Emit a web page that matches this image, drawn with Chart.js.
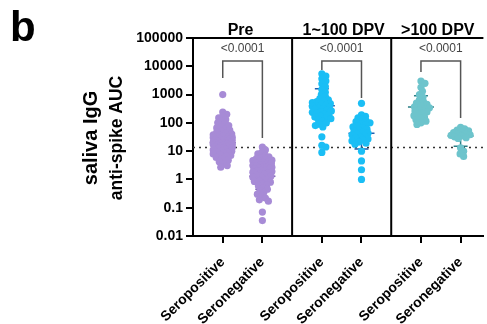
<!DOCTYPE html>
<html><head><meta charset="utf-8">
<script src="https://cdn.jsdelivr.net/npm/chart.js@4.4.0/dist/chart.umd.min.js"></script>
<style>html,body{margin:0;padding:0;background:#fff;}canvas{display:block}</style>
</head><body>
<canvas id="c" width="487" height="324"></canvas>
<script>
const panelTitles = ['Pre', '1~100 DPV', '>100 DPV'];
const groupLabels = ['Seropositive', 'Seronegative', 'Seropositive', 'Seronegative', 'Seropositive', 'Seronegative'];
const groupPositions = [0.3, 0.7, 1.3, 1.7, 2.3, 2.7];
const yTickValues = [100000, 10000, 1000, 100, 10, 1, 0.1, 0.01];
const yTickLabels = ['100000', '10000', '1000', '100', '10', '1', '0.1', '0.01'];
const pValues = ['<0.0001', '<0.0001', '<0.0001'];
const cutoff = 13.5;

const preSeropositive = [1000, 240, 200, 170, 150, 130, 115, 100, 90, 80, 72, 66, 60, 55, 50, 46, 43, 40, 38, 36, 34, 33, 32, 31, 30, 29, 28, 27, 26, 25, 24.5, 24, 23, 22.5, 22, 21, 20.5, 20, 19.5, 19, 18.5, 18, 17.5, 17, 16.5, 16, 15.5, 15, 14.5, 14, 13.5, 13, 12.5, 12, 11.5, 11, 10.5, 10, 9.5, 9, 8.5, 8, 7.5, 7, 6.5, 6, 5.4, 4.8, 4.2, 3.6, 3.1, 2.7];
const preSeronegative = [14, 11, 9, 8, 7, 6.3, 5.8, 5.4, 5.0, 4.8, 4.6, 4.4, 4.2, 4.0, 3.8, 3.6, 3.4, 3.2, 3.1, 3.0, 2.9, 2.8, 2.7, 2.6, 2.5, 2.4, 2.3, 2.2, 2.1, 2.0, 1.9, 1.8, 1.7, 1.6, 1.5, 1.4, 1.3, 1.2, 1.1, 1.0, 0.9, 0.85, 0.8, 0.7, 0.65, 0.6, 0.5, 0.45, 0.4, 0.35, 0.3, 0.26, 0.22, 0.19, 0.17, 0.07, 0.035];
const dpv1Seropositive = [5400, 4500, 3600, 3000, 2400, 1900, 1500, 1200, 1000, 850, 720, 650, 600, 560, 520, 480, 450, 420, 400, 380, 360, 340, 320, 300, 280, 265, 250, 235, 220, 205, 190, 175, 160, 150, 140, 130, 115, 100, 90, 80, 72, 32, 16, 14, 9];
const dpv1Seronegative = [490, 190, 170, 150, 135, 120, 110, 100, 92, 85, 78, 72, 66, 60, 55, 50, 46, 43, 40, 37, 34, 31, 29, 27, 25, 23, 21, 19, 17.5, 10, 4.5, 2.2, 1.0];
const dpv2Seropositive = [3000, 2500, 1800, 1300, 1000, 800, 650, 560, 500, 450, 400, 370, 340, 310, 280, 260, 240, 220, 200, 180, 160, 145, 130, 115, 100, 88];
const dpv2Seronegative = [70, 62, 56, 52, 48, 45, 42, 40, 38, 36, 34, 32, 30, 28, 13, 10, 8, 6.5];

const groupValues = [preSeropositive, preSeronegative, dpv1Seropositive, dpv1Seronegative, dpv2Seropositive, dpv2Seronegative];
const groupMedians = [20, 1.3, 400, 43, 360, 34];
const groupLowers = [8, 0.45, 84, 12, 150, 15];
const groupUppers = [66, 4.5, 1600, 110, 900, 55];

const bracketTops = [15400, 15400, 15400];
const bracketLeftEnds = [3850, 7400, 6300];
const bracketRightEnds = [29, 757, 149];

const pointColors = ['#A78BD6', '#A78BD6', '#1ABEF5', '#1ABEF5', '#6DC4CC', '#6DC4CC'];
const barColors = ['#6A4FA3', '#6A4FA3', '#1F5FB0', '#1F5FB0', '#2A7F86', '#2A7F86'];

const FONT = "'Liberation Sans', Arial, sans-serif";

const datasets = [];
groupValues.forEach((vals, g) => {
  datasets.push({
    type: 'scatter',
    data: vals.map(v => ({ x: groupPositions[g], y: v })),
    backgroundColor: pointColors[g],
    borderColor: pointColors[g],
    borderWidth: 0,
    pointRadius: 3.6,
    pointHoverRadius: 3.6,
    order: 1
  });
});
datasets.push({
  type: 'line',
  data: [{ x: 0, y: cutoff }, { x: 2.93, y: cutoff }],
  borderColor: '#333',
  borderWidth: 1.6,
  borderDash: [2, 4],
  pointRadius: 0,
  order: 20
});
for (let p = 0; p < 3; p++) {
  const a = groupPositions[2 * p], b = groupPositions[2 * p + 1];
  datasets.push({
    type: 'line',
    data: [{ x: a, y: bracketLeftEnds[p] }, { x: a, y: bracketTops[p] }, { x: b, y: bracketTops[p] }, { x: b, y: bracketRightEnds[p] }],
    borderColor: '#555',
    borderWidth: 1.5,
    pointRadius: 0,
    tension: 0,
    order: 5
  });
}

const decorPlugin = {
  id: 'decor',
  beforeDatasetsDraw(chart) {
    const ctx = chart.ctx, xs = chart.scales.x, ys = chart.scales.y;
    ctx.save();
    for (let g = 0; g < 6; g++) {
      const cx = xs.getPixelForValue(groupPositions[g]);
      const ym = ys.getPixelForValue(groupMedians[g]);
      const yl = ys.getPixelForValue(groupLowers[g]);
      const yu = ys.getPixelForValue(groupUppers[g]);
      ctx.strokeStyle = barColors[g];
      ctx.lineWidth = 1.5;
      ctx.beginPath();
      ctx.moveTo(cx - 13, ym); ctx.lineTo(cx + 13, ym);
      ctx.moveTo(cx, yl); ctx.lineTo(cx, yu);
      ctx.moveTo(cx - 7, yl); ctx.lineTo(cx + 7, yl);
      ctx.moveTo(cx - 7, yu); ctx.lineTo(cx + 7, yu);
      ctx.stroke();
    }
    ctx.restore();
  },
  afterDatasetsDraw(chart) {
    const ctx = chart.ctx, xs = chart.scales.x, ys = chart.scales.y, area = chart.chartArea;
    ctx.save();
    ctx.strokeStyle = '#000';
    ctx.lineWidth = 2;
    ctx.beginPath();
    ctx.moveTo(area.left, area.top); ctx.lineTo(area.right, area.top);
    [1, 2].forEach(v => {
      const px = xs.getPixelForValue(v);
      ctx.moveTo(px, area.top); ctx.lineTo(px, area.bottom);
    });
    ctx.stroke();
    ctx.fillStyle = '#444';
    ctx.font = '12px ' + FONT;
    ctx.textAlign = 'center';
    ctx.textBaseline = 'alphabetic';
    for (let p = 0; p < 3; p++) {
      const mx = (xs.getPixelForValue(groupPositions[2 * p]) + xs.getPixelForValue(groupPositions[2 * p + 1])) / 2;
      ctx.fillText(pValues[p], mx, ys.getPixelForValue(bracketTops[p]) - 8.5);
    }
    ctx.fillStyle = '#000';
    ctx.font = 'bold 16px ' + FONT;
    const titleX = [0.48, 1.52, 2.47];
    for (let p = 0; p < 3; p++) {
      ctx.fillText(panelTitles[p], xs.getPixelForValue(titleX[p]), area.top - 3);
    }
    ctx.save();
    ctx.translate(91, 138);
    ctx.rotate(-Math.PI / 2);
    ctx.textBaseline = 'middle';
    ctx.font = 'bold 20px ' + FONT;
    ctx.fillText('saliva IgG', 0, 0);
    ctx.restore();
    ctx.save();
    ctx.translate(117, 138);
    ctx.rotate(-Math.PI / 2);
    ctx.textBaseline = 'middle';
    ctx.font = 'bold 17.5px ' + FONT;
    ctx.fillText('anti-spike AUC', 0, 0);
    ctx.restore();
    ctx.textAlign = 'left';
    ctx.font = 'bold 42px ' + FONT;
    ctx.fillText('b', 10, 41);
    ctx.restore();
  }
};

const chart = new Chart(document.getElementById('c'), {
  data: { datasets },
  options: {
    responsive: false,
    animation: false,
    events: [],
    layout: { padding: { top: 38, right: 0, bottom: 0, left: 0 } },
    plugins: { legend: { display: false }, tooltip: { enabled: false } },
    scales: {
      x: {
        type: 'linear',
        min: 0, max: 2.93,
        afterFit(s) { s.height = 88; },
        afterBuildTicks(s) { s.ticks = groupPositions.map(v => ({ value: v })); },
        ticks: {
          autoSkip: false, minRotation: 45, maxRotation: 45,
          color: '#000', font: { family: FONT, weight: 'bold', size: 14 }, padding: 11,
          callback(v, i) { return groupLabels[i]; }
        },
        grid: { drawOnChartArea: false, drawTicks: true, tickLength: 7, color: '#000', lineWidth: 2 },
        border: { display: true, color: '#000', width: 2 }
      },
      y: {
        type: 'logarithmic',
        min: 0.01, max: 100000,
        afterFit(s) { s.width = 193; },
        afterBuildTicks(s) { s.ticks = yTickValues.slice().reverse().map(v => ({ value: v, major: true })); },
        ticks: {
          color: '#000', font: { family: FONT, weight: 'bold', size: 14 }, padding: 3,
          callback(v) {
            let best = 0;
            yTickValues.forEach((t, i) => { if (Math.abs(Math.log10(t) - Math.log10(v)) < Math.abs(Math.log10(yTickValues[best]) - Math.log10(v))) best = i; });
            return yTickLabels[best];
          }
        },
        grid: { drawOnChartArea: false, drawTicks: true, tickLength: 7, color: '#000', lineWidth: 2 },
        border: { display: true, color: '#000', width: 2 }
      }
    }
  },
  plugins: [decorPlugin]
});

function swarm(vals, center, d, maxHalf) {
  const xs = chart.scales.x, ys = chart.scales.y;
  const cx = xs.getPixelForValue(center);
  const placed = [];
  const res = new Array(vals.length);
  const order = vals.map((v, i) => i).sort((a, b) => vals[b] - vals[a]);
  const cands = [0];
  for (let k = 1; k <= maxHalf * 2; k++) { cands.push(k * 0.5, -k * 0.5); }
  for (const i of order) {
    const py = ys.getPixelForValue(vals[i]);
    let chosen = null, bestOff = 0, bestDist = -1;
    for (const off of cands) {
      if (Math.abs(off) > maxHalf) continue;
      let minD = Infinity;
      for (const q of placed) {
        const dd = Math.hypot(q[0] - off, q[1] - py);
        if (dd < minD) minD = dd;
      }
      if (minD >= d) { chosen = off; break; }
      if (minD > bestDist) { bestDist = minD; bestOff = off; }
    }
    if (chosen === null) chosen = bestOff;
    placed.push([chosen, py]);
    res[i] = xs.getValueForPixel(cx + chosen);
  }
  return res;
}
groupValues.forEach((vals, g) => {
  const xsv = swarm(vals, groupPositions[g], 4.2, 9.5);
  chart.data.datasets[g].data = vals.map((v, i) => ({ x: xsv[i], y: v }));
});
chart.update('none');
</script>
</body></html>
